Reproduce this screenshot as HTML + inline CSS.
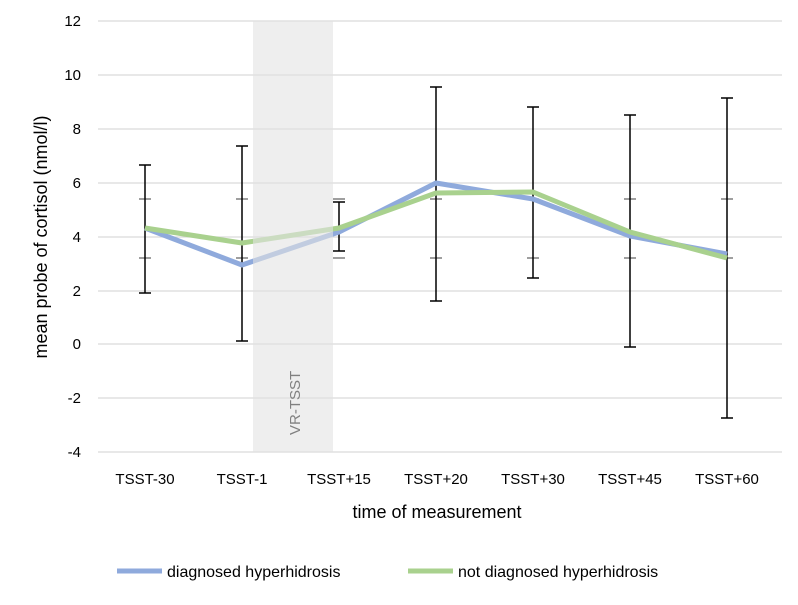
<!DOCTYPE html><html><head><style>body{margin:0;background:#fff}</style></head><body>
<svg width="798" height="600" xmlns="http://www.w3.org/2000/svg" font-family="Liberation Sans, sans-serif">
<g stroke="#d9d9d9" stroke-width="1.3">
<line x1="98" x2="782" y1="21" y2="21"/><line x1="98" x2="782" y1="75" y2="75"/><line x1="98" x2="782" y1="129" y2="129"/><line x1="98" x2="782" y1="183" y2="183"/><line x1="98" x2="782" y1="237" y2="237"/><line x1="98" x2="782" y1="291" y2="291"/><line x1="98" x2="782" y1="344" y2="344"/><line x1="98" x2="782" y1="398" y2="398"/><line x1="98" x2="782" y1="452" y2="452"/>
</g>
<g font-size="15" fill="#000" text-anchor="end">
<text x="81" y="26">12</text><text x="81" y="80">10</text><text x="81" y="134">8</text><text x="81" y="188">6</text><text x="81" y="242">4</text><text x="81" y="296">2</text><text x="81" y="349">0</text><text x="81" y="403">-2</text><text x="81" y="457">-4</text>
</g>
<g stroke="#666" stroke-width="1.3">
<path d="M139 199h12M139 258h12M236 199h12M236 258h12M333 199h12M333 258h12M430 199h12M430 258h12M527 199h12M527 258h12M624 199h12M624 258h12M721 199h12M721 258h12"/>
</g>
<g stroke="#000" stroke-width="1.5" fill="none">
<path d="M145 165V293M139 165h12M139 293h12"/>
<path d="M242 146V341M236 146h12M236 341h12"/>
<path d="M339 202V251M333 202h12M333 251h12"/>
<path d="M436 87V301M430 87h12M430 301h12"/>
<path d="M533 107V278M527 107h12M527 278h12"/>
<path d="M630 115V347M624 115h12M624 347h12"/>
<path d="M727 98V418M721 98h12M721 418h12"/>
</g>
<polyline fill="none" stroke="#8faadc" stroke-width="5" stroke-linejoin="round" points="145,228 242,265 339,232 436,183 533,199 630,236 727,254"/>
<polyline fill="none" stroke="#a9d18e" stroke-width="5" stroke-linejoin="round" points="145,228 242,243 339,228 436,193 533,192 630,232 727,258"/>
<rect x="253" y="21" width="80" height="431" fill="#e3e3e3" opacity="0.6"/>
<text transform="translate(300,435) rotate(-90)" font-size="15" fill="#808080">VR-TSST</text>
<g font-size="15" text-anchor="middle">
<text x="145" y="484">TSST-30</text><text x="242" y="484">TSST-1</text><text x="339" y="484">TSST+15</text><text x="436" y="484">TSST+20</text><text x="533" y="484">TSST+30</text><text x="630" y="484">TSST+45</text><text x="727" y="484">TSST+60</text>
</g>
<text x="437" y="518" font-size="18" text-anchor="middle">time of measurement</text>
<text transform="translate(47,237) rotate(-90)" font-size="18" text-anchor="middle">mean probe of cortisol (nmol/l)</text>
<line x1="117" x2="162" y1="571" y2="571" stroke="#8faadc" stroke-width="5"/>
<text x="167" y="577" font-size="16">diagnosed hyperhidrosis</text>
<line x1="408" x2="453" y1="571" y2="571" stroke="#a9d18e" stroke-width="5"/>
<text x="458" y="577" font-size="16">not diagnosed hyperhidrosis</text>
</svg></body></html>
